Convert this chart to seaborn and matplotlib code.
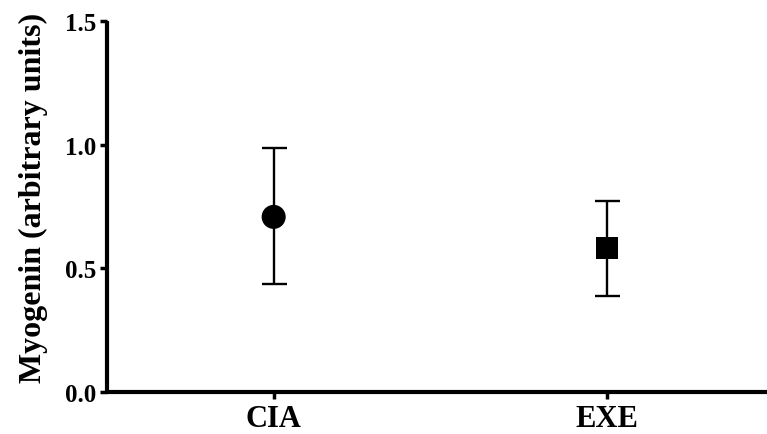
import matplotlib
matplotlib.use("Agg")
import matplotlib.pyplot as plt
import seaborn as sns
import pandas as pd

groups = ["CIA", "EXE"]
means = [0.708, 0.582]
lower = [0.437, 0.388]
upper = [0.987, 0.774]
markers = ["o", "s"]

df = pd.DataFrame({"group": groups, "mean": means})

sns.set_style("ticks")
plt.rcParams["font.family"] = ["Liberation Serif", "DejaVu Serif"]
plt.rcParams["font.weight"] = "bold"
plt.rcParams["axes.edgecolor"] = "black"
plt.rcParams["xtick.color"] = "black"
plt.rcParams["ytick.color"] = "black"
plt.rcParams["text.color"] = "black"
plt.rcParams["axes.labelcolor"] = "black"

fig = plt.figure(figsize=(7.67, 4.35), dpi=100)
ax = fig.add_axes([0.1395, 0.0966, 0.8605, 0.8528])

yerr = [[m - l for m, l in zip(means, lower)], [u - m for m, u in zip(means, upper)]]
ax.errorbar(groups, means, yerr=yerr, fmt="none", ecolor="black",
            elinewidth=1.7, capsize=9, capthick=1.7, zorder=2)
sns.scatterplot(data=df, x="group", y="mean", style="group", markers=dict(zip(groups, markers)),
                color="black", s=[300, 260], edgecolor="black", linewidth=0, legend=False, ax=ax, zorder=3)

ax.set_xlim(-0.5, 1.48)
ax.set_ylim(0, 1.5)
ax.set_yticks([0.0, 0.5, 1.0, 1.5])
ax.set_yticklabels(["0.0", "0.5", "1.0", "1.5"])
ax.set_xlabel("")
ax.set_ylabel("Myogenin (arbitrary units)", fontsize=23, fontweight="bold")
ax.yaxis.set_label_coords(-0.09, 0.525)
ax.tick_params(axis="y", labelsize=18, width=2.5, length=5, pad=3)
ax.tick_params(axis="x", labelsize=22, width=2.5, length=5, pad=4)
for lab in ax.get_xticklabels() + ax.get_yticklabels():
    lab.set_fontweight("bold")
for s in ["top", "right"]:
    ax.spines[s].set_visible(False)
for s in ["left", "bottom"]:
    ax.spines[s].set_linewidth(3)
    ax.spines[s].set_capstyle("butt")

fig.savefig("out.png", dpi=100)
